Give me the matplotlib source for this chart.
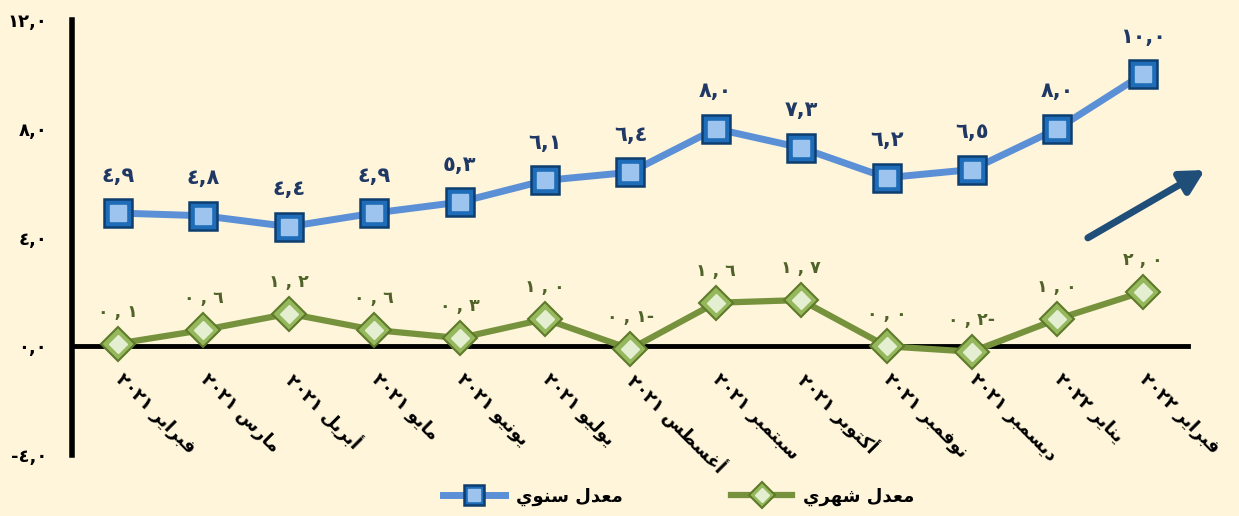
import matplotlib
matplotlib.use("Agg")
import matplotlib.pyplot as plt
from matplotlib.legend_handler import HandlerTuple

# ---------------- data ----------------
months = ["فبراير ٢٠٢١", "مارس ٢٠٢١", "أبريل ٢٠٢١", "مايو ٢٠٢١", "يونيو ٢٠٢١",
          "يوليو ٢٠٢١", "أغسطس ٢٠٢١", "سبتمبر ٢٠٢١", "أكتوبر ٢٠٢١", "نوفمبر ٢٠٢١",
          "ديسمبر ٢٠٢١", "يناير ٢٠٢٢", "فبراير ٢٠٢٢"]
annual = [4.9, 4.8, 4.4, 4.9, 5.3, 6.1, 6.4, 8.0, 7.3, 6.2, 6.5, 8.0, 10.0]
monthly = [0.1, 0.6, 1.2, 0.6, 0.3, 1.0, -0.1, 1.6, 1.7, 0.0, -0.2, 1.0, 2.0]
yticks = [-4, 0, 4, 8, 12]
legend_annual = "معدل سنوي"
legend_monthly = "معدل شهري"

# ---------------- Arabic shaping helper ----------------
FORMS = {
    'ا': ('\uFE8D', '\uFE8E', None, None),
    'أ': ('\uFE83', '\uFE84', None, None),
    'ب': ('\uFE8F', '\uFE90', '\uFE91', '\uFE92'),
    'ت': ('\uFE95', '\uFE96', '\uFE97', '\uFE98'),
    'د': ('\uFEA9', '\uFEAA', None, None),
    'ر': ('\uFEAD', '\uFEAE', None, None),
    'س': ('\uFEB1', '\uFEB2', '\uFEB3', '\uFEB4'),
    'ش': ('\uFEB5', '\uFEB6', '\uFEB7', '\uFEB8'),
    'ط': ('\uFEC1', '\uFEC2', '\uFEC3', '\uFEC4'),
    'ع': ('\uFEC9', '\uFECA', '\uFECB', '\uFECC'),
    'غ': ('\uFECD', '\uFECE', '\uFECF', '\uFED0'),
    'ف': ('\uFED1', '\uFED2', '\uFED3', '\uFED4'),
    'ك': ('\uFED9', '\uFEDA', '\uFEDB', '\uFEDC'),
    'ل': ('\uFEDD', '\uFEDE', '\uFEDF', '\uFEE0'),
    'م': ('\uFEE1', '\uFEE2', '\uFEE3', '\uFEE4'),
    'ن': ('\uFEE5', '\uFEE6', '\uFEE7', '\uFEE8'),
    'ه': ('\uFEE9', '\uFEEA', '\uFEEB', '\uFEEC'),
    'و': ('\uFEED', '\uFEEE', None, None),
    'ي': ('\uFEF1', '\uFEF2', '\uFEF3', '\uFEF4'),
}


def shape_word(w):
    out = []
    for i, c in enumerate(w):
        if c not in FORMS:
            out.append(c)
            continue
        prev = w[i - 1] if i > 0 else None
        nxt = w[i + 1] if i < len(w) - 1 else None
        jp = prev in FORMS and FORMS[prev][2] is not None
        jn = nxt in FORMS and FORMS[c][2] is not None
        iso, fin, ini, med = FORMS[c]
        if jp and jn:
            out.append(med)
        elif jp:
            out.append(fin)
        elif jn:
            out.append(ini)
        else:
            out.append(iso)
    return ''.join(out)


def visual(text):
    toks = text.split(' ')
    vt = []
    for t in toks:
        if any(ch in FORMS for ch in t):
            vt.append(shape_word(t)[::-1])
        else:
            vt.append(t)
    return ' '.join(vt[::-1])


AR_DIG = str.maketrans('0123456789', '٠١٢٣٤٥٦٧٨٩')


def fmt_annual(v):
    return f"{v:.1f}".translate(AR_DIG).replace('.', ',')


def fmt_monthly(v):
    s = f"{abs(v):.1f}".translate(AR_DIG)
    a, b = s.split('.')
    out = f"{a} , {b}"
    if v < 0:
        out += '-'
    return out


def fmt_tick(v, pos=None):
    s = f"{abs(v):.1f}".translate(AR_DIG).replace('.', ',')
    return ('-' + s) if v < 0 else s


# ---------------- figure ----------------
plt.rcParams['font.family'] = ['DejaVu Sans']
BG = '#FEF5DB'
fig = plt.figure(figsize=(12.39, 5.16), dpi=100, facecolor=BG)
ax = fig.add_axes([0.0581, 0.1182, 0.9007, 0.843])
ax.set_facecolor(BG)

x = list(range(len(months)))

# annual line
l_a1, = ax.plot(x, annual, color='#5B8FD6', lw=5, marker='s', ms=20,
                mfc='#1F6DB8', mec='#0E3E70', mew=1.8, zorder=4)
l_a2, = ax.plot(x, annual, ls='none', marker='s', ms=11,
                mfc='#9CC4EE', mec='#9CC4EE', zorder=5)
# monthly line
l_m1, = ax.plot(x, monthly, color='#76923C', lw=4.5, marker='D', ms=17,
                mfc='#96B85C', mec='#5E7A2A', mew=1.5, zorder=4)
l_m2, = ax.plot(x, monthly, ls='none', marker='D', ms=9,
                mfc='#E3EFD0', mec='#E3EFD0', zorder=5)

for xi, v in zip(x, annual):
    ax.annotate(fmt_annual(v), xy=(xi, v), xytext=(0, 27), textcoords='offset points',
                ha='center', va='center', fontsize=15, fontweight='bold', color='#1F3864')
for xi, v in zip(x, monthly):
    ax.annotate(fmt_monthly(v), xy=(xi, v), xytext=(0, 23), textcoords='offset points',
                ha='center', va='center', fontsize=12.5, fontweight='bold', color='#4F6228')

ax.set_xlim(-0.54, 12.53)
ax.set_ylim(-4, 12)
ax.set_yticks(yticks)
ax.yaxis.set_major_formatter(plt.FuncFormatter(fmt_tick))
ax.tick_params(axis='y', length=0, pad=18, labelsize=13)
for lab in ax.get_yticklabels():
    lab.set_fontweight('bold')
ax.set_xticks([])

for s in ['top', 'right']:
    ax.spines[s].set_visible(False)
ax.spines['left'].set_linewidth(4)
ax.spines['left'].set_color('black')
ax.spines['bottom'].set_position(('data', 0))
ax.spines['bottom'].set_linewidth(3.5)
ax.spines['bottom'].set_color('black')
ax.spines['bottom'].set_zorder(3)

for xi, m in zip(x, months):
    ax.annotate(visual(m), xy=(xi, 0), xytext=(0, -22), textcoords='offset points',
                rotation=-45, rotation_mode='anchor', ha='left', va='center',
                fontsize=13, fontweight='bold', color='black', annotation_clip=False)

# trend arrow
ax.annotate('', xy=(0.9725, 0.6705), xytext=(0.878, 0.539),
            xycoords='figure fraction', textcoords='figure fraction',
            arrowprops=dict(arrowstyle='-|>,head_length=1.4,head_width=0.75',
                            lw=5, color='#1F4E79', shrinkA=0, shrinkB=0))

fig.legend([(l_a1, l_a2), (l_m1, l_m2)], [visual(legend_annual), visual(legend_monthly)],
           handler_map={tuple: HandlerTuple(ndivide=1, pad=0)},
           loc='center', bbox_to_anchor=(0.548, 0.037), ncol=2, frameon=False,
           prop={'weight': 'bold', 'size': 13}, handlelength=3.4, columnspacing=6,
           handletextpad=0.6, markerscale=0.75)

fig.savefig('out.png', dpi=100, facecolor=BG)
